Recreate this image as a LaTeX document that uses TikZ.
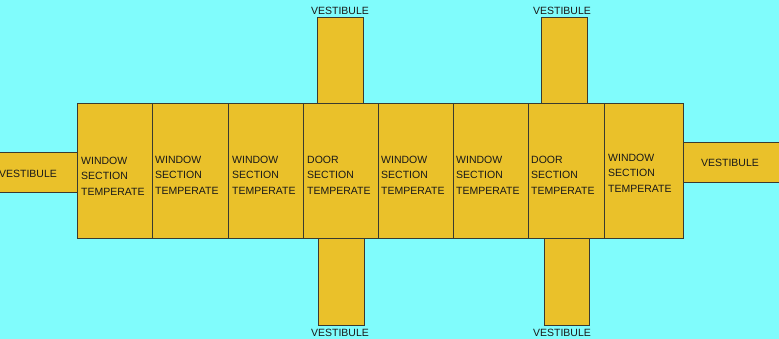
\documentclass[tikz,border=0pt]{standalone}
\usepackage{fontspec}
\setmainfont{Liberation Sans}
\definecolor{bg}{HTML}{80FCFC}
\definecolor{gold}{HTML}{EAC12A}
\definecolor{edge}{HTML}{3A3A30}
\begin{document}
\begin{tikzpicture}[x=1pt,y=-1pt,
  room/.style={draw=edge,fill=gold,line width=1pt},
  lab/.style={font=\fontsize{10.5}{15.5}\selectfont,text=black!90,inner sep=0pt},
  sect/.style={lab,align=left,anchor=west}]
\fill[bg] (0,0) rectangle (779,339);
\useasboundingbox (0,0) rectangle (779,339);
% vestibules
\draw[room] (-2,153) rectangle (77,193) coordinate (vl);
\draw[room] (683,143) rectangle (781,183) coordinate (vr);
\draw[room] (317,18) rectangle (363,104) coordinate (vt1);
\draw[room] (541,18) rectangle (587,104) coordinate (vt2);
\draw[room] (318,239) rectangle (364,325) coordinate (vb1);
\draw[room] (544,239) rectangle (589,325) coordinate (vb2);
% sections
\foreach \a/\b/\n in {77/152/1,152/228/2,228/303/3,303/378/4,378/453/5,453/528/6,528/604/7,604/683/8}
  \draw[room] (\a,104) rectangle (\b,239) coordinate (s\n);
\node[sect] (t1) at (81,176) {WINDOW\\SECTION\\TEMPERATE};
\node[sect] (t2) at (155,175) {WINDOW\\SECTION\\TEMPERATE};
\node[sect] (t3) at (232,175) {WINDOW\\SECTION\\TEMPERATE};
\node[sect] (t4) at (307,175) {DOOR\\SECTION\\TEMPERATE};
\node[sect] (t5) at (381,175) {WINDOW\\SECTION\\TEMPERATE};
\node[sect] (t6) at (456,175) {WINDOW\\SECTION\\TEMPERATE};
\node[sect] (t7) at (531,175) {DOOR\\SECTION\\TEMPERATE};
\node[sect] (t8) at (608,173) {WINDOW\\SECTION\\TEMPERATE};
\node[lab] (l1) at (28,174) {VESTIBULE};
\node[lab] (l2) at (730,163) {VESTIBULE};
\node[lab] (l3) at (340,11) {VESTIBULE};
\node[lab] (l4) at (562,11) {VESTIBULE};
\node[lab] (l5) at (340,333) {VESTIBULE};
\node[lab] (l6) at (562,333) {VESTIBULE};
\end{tikzpicture}
\end{document}
